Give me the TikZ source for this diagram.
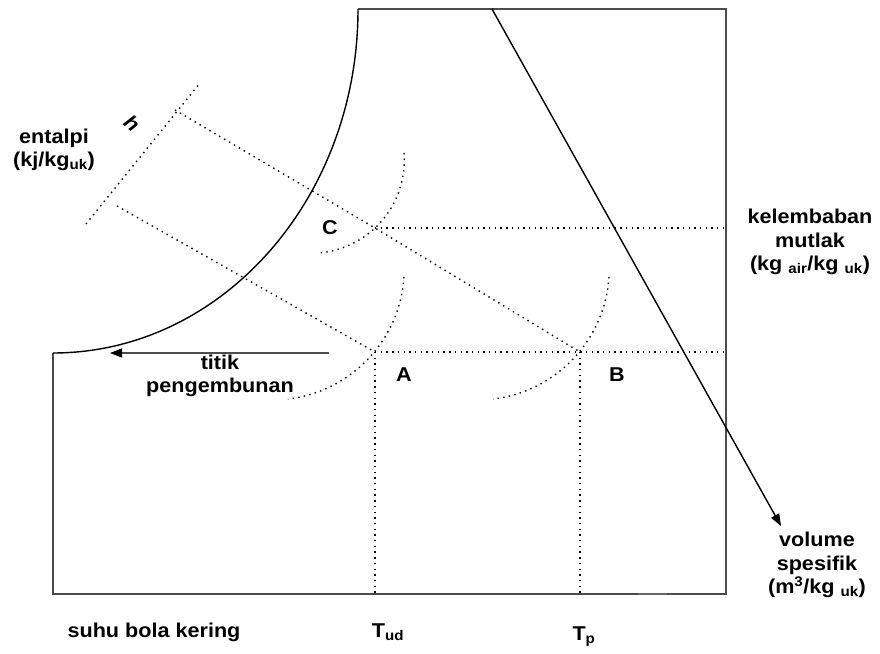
\documentclass[tikz,border=0pt]{standalone}
\usepackage{fontspec}
\setmainfont{Liberation Sans}[FakeStretch=1.08]
\usetikzlibrary{arrows.meta}
\begin{document}
\begin{tikzpicture}[x=1pt,y=1pt,
  lbl/.style={font=\fontsize{20}{23.5}\selectfont\bfseries, align=center, inner sep=0pt},
  frame/.style={draw=black!70, line width=1.3pt},
  curve/.style={draw=black, line width=1.4pt},
  dots/.style={draw=black, line width=1.4pt, dash pattern=on 1.4pt off 4.3pt},
]
\useasboundingbox (0,0) rectangle (880,653);
% frame
\coordinate (TL) at (358,644);
\coordinate (TR) at (726,644);
\coordinate (BR) at (726,59);
\coordinate (BL) at (53,59);
\coordinate (DP) at (53,300);
\draw[frame] (TL) -- (TR) -- (BR) -- (BL) -- (DP);
\draw[black!60, line width=2.4pt] (638,59) -- (667,59);
% saturation curve
\draw[curve] (DP) arc[start angle=-90, end angle=0, x radius=305, y radius=344];
% specific volume line
\coordinate (V0) at (492,644);
\coordinate (V1) at (781,127);
\draw[curve, -{Triangle[length=12pt,width=9pt]}] (V0) -- (V1);
% dew point arrow
\coordinate (W0) at (329,300);
\coordinate (W1) at (110,300);
\draw[frame, line width=1.2pt, -{Triangle[length=12pt,width=9pt,black]}] (W0) -- (W1);
% state points
\coordinate (A) at (375,301);
\coordinate (B) at (580,301);
\coordinate (C) at (375,425);
\coordinate (AR) at (726,301);
\coordinate (CR) at (726,425);
\coordinate (AB) at (375,59);
\coordinate (BB) at (580,59);
\coordinate (D1) at (175,543);
\coordinate (D2) at (117,447);
\coordinate (H1) at (86,429);
\coordinate (H2) at (200,570);
\draw[dots] (A) -- (AR);
\draw[dots] (C) -- (CR);
\draw[dots] (A) -- (AB);
\draw[dots] (B) -- (BB);
\draw[dots] (D1) -- (C) -- (B);
\draw[dots] (D2) -- (A);
\draw[dots] (H1) -- (H2);
% arcs
\coordinate (Atop) at (404,376);
\coordinate (Btop) at (609,376);
\coordinate (Ctop) at (404,500);
\draw[dots] (Atop) arc[start angle=-3.8, end angle=-83.3, radius=131.7];
\draw[dots] (Btop) arc[start angle=-3.8, end angle=-83.3, radius=131.7];
\draw[dots] (Ctop) arc[start angle=4.5, end angle=-86.5, radius=92.9];
% labels
\node[lbl] (ent) at (54,503) {entalpi\\(kj/kg\textsubscript{uk})};
\node[lbl, rotate=-40] (h) at (132,530) {\itshape h};
\node[lbl] (lC) at (330,425) {C};
\node[lbl] (lA) at (404,278) {A};
\node[lbl] (lB) at (617,278) {B};
\node[lbl] (kel) at (810,411) {kelembaban\\mutlak\\(kg \textsubscript{air}/kg \textsubscript{uk})};
\node[lbl] (tit) at (220,277) {titik\\pengembunan};
\node[lbl] (vol) at (817,88) {volume\\spesifik\\(m\textsuperscript{3}/kg \textsubscript{uk})};
\node[lbl] (suhu) at (154,21) {suhu bola kering};
\node[lbl] (tud) at (388,21) {T\textsubscript{ud}};
\node[lbl] (tp) at (584,16) {T\textsubscript{p}};
\end{tikzpicture}
\end{document}
